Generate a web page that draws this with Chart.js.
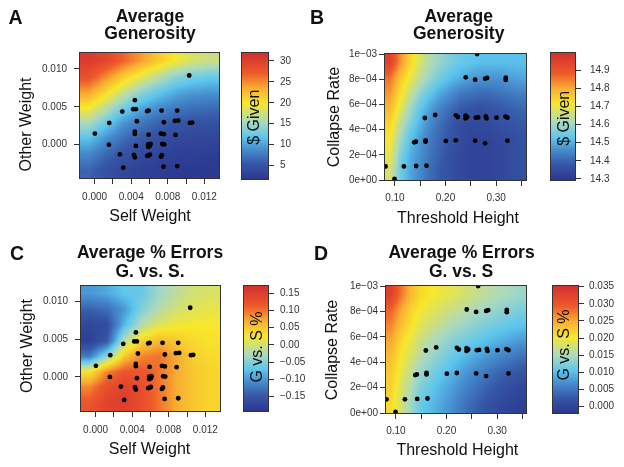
<!DOCTYPE html>
<html>
<head>
<meta charset="utf-8">
<script src="https://cdn.jsdelivr.net/npm/chart.js@4.4.0/dist/chart.umd.min.js"></script>
<style>
  html, body { margin: 0; padding: 0; background: #fff; }
  #fig { position: relative; width: 624px; height: 467px; overflow: hidden; background: #fff; }
  #fig canvas { position: absolute; }
</style>
</head>
<body>
<div id="fig"></div>
<script>
/*
    data
*/

// panels A and C: one point per subject
var selfWeight = [0.01034, 0.00440, 0.00302, 0.00422, 0.00451, 0.00575, 0.00590, 0.00732, 0.00903,
    0.00160, 0.00462, 0.00757, 0.00878, 0.00914, 0.01042, 0.01067, 0.00003, 0.00440, 0.00440,
    0.00590, 0.00725, 0.00757, 0.00885, 0.00156, 0.00451, 0.00586, 0.00604, 0.00586, 0.00612,
    0.00739, 0.00761, 0.00276, 0.00430, 0.00440, 0.00575, 0.00593, 0.00604, 0.00725, 0.00736,
    0.00313, 0.00754, 0.00903];
var otherWeight = [0.00913, 0.00587, 0.00437, 0.00468, 0.00468, 0.00442, 0.00450, 0.00450, 0.00450,
    0.00287, 0.00309, 0.00296, 0.00313, 0.00317, 0.00287, 0.00291, 0.00146, 0.00172, 0.00142,
    0.00132, 0.00146, 0.00138, 0.00128, 0.00000, -0.00017, 0.00005, -0.00017, -0.00030, 0.00009,
    0.00009, 0.00005, -0.00127, -0.00136, -0.00167, -0.00149, -0.00140, -0.00132, -0.00159, -0.00140,
    -0.00304, -0.00291, -0.00282];

// panels B and D
var thresholdHeight = [0.2625, 0.2400, 0.2586, 0.2783, 0.2822, 0.3190, 0.3190,
    0.1592, 0.1796, 0.2204, 0.2243, 0.2395, 0.2395, 0.2428, 0.2599, 0.2645, 0.2796, 0.2809,
    0.3007, 0.3184, 0.3224, 0.1382, 0.1414, 0.1605, 0.1605, 0.2007, 0.2204, 0.2586, 0.2783,
    0.3224, 0.0816, 0.1178, 0.1421, 0.1625, 0.0993];
var collapseRate = [0.001000, 0.000815, 0.000796, 0.000804, 0.000810, 0.000812, 0.000794,
    0.000492, 0.000516, 0.000513, 0.000500, 0.000511, 0.000489, 0.000500, 0.000495, 0.000497, 0.000505, 0.000489,
    0.000495, 0.000503, 0.000495, 0.000299, 0.000304, 0.000315, 0.000304, 0.000310, 0.000315, 0.000312, 0.000291,
    0.000312, 0.000108, 0.000108, 0.000111, 0.000114, 0.000008];

// axis ticks
var selfWeightTicks = [0, 0.002, 0.004, 0.006, 0.008, 0.010, 0.012];
var selfWeightLabels = ['0.000', '', '0.004', '', '0.008', '', '0.012'];
var otherWeightTicks = [0, 0.005, 0.010];
var otherWeightLabels = ['0.000', '0.005', '0.010'];
var thresholdTicks = [0.10, 0.15, 0.20, 0.25, 0.30, 0.35];
var thresholdLabels = ['0.10', '', '0.20', '', '0.30', ''];
var collapseTicks = [0, 0.0002, 0.0004, 0.0006, 0.0008, 0.001];
var collapseLabels = ['0e+00', '2e\u221204', '4e\u221204', '6e\u221204', '8e\u221204', '1e\u221203'];

// colour bar ticks
var givenTicksA = [5, 10, 15, 20, 25, 30];
var givenLabelsA = ['5', '10', '15', '20', '25', '30'];
var givenTicksB = [14.3, 14.4, 14.5, 14.6, 14.7, 14.8, 14.9];
var givenLabelsB = ['14.3', '14.4', '14.5', '14.6', '14.7', '14.8', '14.9'];
var errorTicksC = [-0.15, -0.10, -0.05, 0, 0.05, 0.10, 0.15];
var errorLabelsC = ['\u22120.15', '\u22120.10', '\u22120.05', '0.00', '0.05', '0.10', '0.15'];
var errorTicksD = [0, 0.005, 0.010, 0.015, 0.020, 0.025, 0.030, 0.035];
var errorLabelsD = ['0.000', '0.005', '0.010', '0.015', '0.020', '0.025', '0.030', '0.035'];

// colour bar ranges
var givenRangeA = [1.8, 31.9];
var givenRangeB = [14.294, 14.994];
var errorRangeC = [-0.192, 0.171];
var errorRangeD = [-0.0019, 0.0352];

// fitted surfaces, cell values: rows from top (high y) down, columns from left
var generosityA = [
    [30.5, 29.3, 26.8, 24.2, 21.8, 19.6, 18.0, 17.2],
    [28.2, 25.0, 21.8, 19.0, 16.5, 14.2, 13.0, 12.5],
    [24.0, 20.8, 17.2, 14.3, 12.2, 10.5, 9.6, 9.3],
    [19.8, 16.4, 13.0, 10.4, 8.8, 7.6, 7.0, 6.8],
    [15.4, 12.4, 9.3, 7.5, 6.2, 5.3, 5.0, 4.8],
    [11.5, 9.0, 6.8, 5.5, 4.5, 3.8, 3.6, 3.5],
    [8.5, 6.5, 5.0, 4.0, 3.3, 2.8, 2.6, 2.5],
    [6.3, 4.8, 3.7, 3.0, 2.5, 2.2, 2.1, 2.0]
];
var generosityB = [
    [14.95, 14.83, 14.74, 14.67, 14.62, 14.59, 14.56, 14.54, 14.53, 14.52, 14.52, 14.52, 14.52, 14.52],
    [14.86, 14.77, 14.70, 14.64, 14.59, 14.55, 14.52, 14.50, 14.48, 14.47, 14.47, 14.47, 14.48, 14.49],
    [14.82, 14.73, 14.65, 14.58, 14.53, 14.49, 14.46, 14.43, 14.42, 14.41, 14.41, 14.42, 14.43, 14.44],
    [14.78, 14.69, 14.60, 14.53, 14.48, 14.44, 14.41, 14.38, 14.37, 14.36, 14.37, 14.38, 14.39, 14.40],
    [14.74, 14.64, 14.56, 14.50, 14.45, 14.41, 14.38, 14.35, 14.34, 14.34, 14.35, 14.36, 14.37, 14.38],
    [14.71, 14.60, 14.52, 14.47, 14.43, 14.40, 14.37, 14.35, 14.33, 14.33, 14.33, 14.34, 14.35, 14.36],
    [14.69, 14.57, 14.50, 14.46, 14.42, 14.39, 14.36, 14.34, 14.33, 14.33, 14.33, 14.34, 14.35, 14.36],
    [14.67, 14.55, 14.49, 14.45, 14.41, 14.38, 14.36, 14.34, 14.33, 14.33, 14.33, 14.34, 14.35, 14.36]
];
var errorsC = [
    [-0.10, -0.09, -0.07, -0.065, -0.035, -0.015, 0.000, 0.005],
    [-0.14, -0.13, -0.10, -0.05, -0.02, 0.000, 0.010, 0.015],
    [-0.17, -0.16, -0.08, -0.02, 0.010, 0.020, 0.025, 0.025],
    [-0.18, -0.15, -0.02, 0.040, 0.060, 0.050, 0.035, 0.030],
    [-0.12, -0.04, 0.050, 0.090, 0.100, 0.070, 0.045, 0.035],
    [0.030, 0.090, 0.120, 0.120, 0.100, 0.070, 0.050, 0.040],
    [0.090, 0.130, 0.145, 0.130, 0.100, 0.070, 0.050, 0.040],
    [0.120, 0.145, 0.150, 0.130, 0.100, 0.070, 0.050, 0.040]
];
var errorsD = [
    [0.0330, 0.0280, 0.0240, 0.0215, 0.0205, 0.0197, 0.0190, 0.0181, 0.0173, 0.0165, 0.0158, 0.0152, 0.0146, 0.0141],
    [0.0290, 0.0252, 0.0220, 0.0200, 0.0190, 0.0180, 0.0171, 0.0163, 0.0155, 0.0147, 0.0140, 0.0133, 0.0127, 0.0122],
    [0.0270, 0.0234, 0.0208, 0.0186, 0.0174, 0.0162, 0.0151, 0.0142, 0.0134, 0.0125, 0.0118, 0.0112, 0.0107, 0.0102],
    [0.0250, 0.0215, 0.0192, 0.0170, 0.0155, 0.0142, 0.0130, 0.0120, 0.0112, 0.0104, 0.0096, 0.0088, 0.0081, 0.0075],
    [0.0235, 0.0203, 0.0180, 0.0155, 0.0140, 0.0125, 0.0112, 0.0100, 0.0088, 0.0078, 0.0069, 0.0060, 0.0052, 0.0045],
    [0.0225, 0.0192, 0.0165, 0.0138, 0.0122, 0.0107, 0.0094, 0.0080, 0.0067, 0.0056, 0.0045, 0.0035, 0.0027, 0.0020],
    [0.0220, 0.0183, 0.0152, 0.0122, 0.0107, 0.0092, 0.0080, 0.0065, 0.0052, 0.0040, 0.0028, 0.0018, 0.0010, 0.0003],
    [0.0215, 0.0177, 0.0143, 0.0110, 0.0097, 0.0083, 0.0070, 0.0054, 0.0040, 0.0027, 0.0015, 0.0005, -0.0002, -0.0008]
];

// colour ramp (blue - cyan - yellow - red)
var paletteStops = [0, 0.12, 0.24, 0.33, 0.45, 0.60, 0.72, 0.84, 1];
var paletteColors = ['#2b388f', '#3656a6', '#4790d0', '#5cc5ee', '#a9d9c0', '#f8e72b', '#f8ae31', '#ee5a2b', '#d32f2f'];


/*
    layout
*/

var FONT = '"Liberation Sans", Arial, Helvetica, sans-serif';
Chart.defaults.font.family = FONT;
Chart.defaults.color = '#333';

var panels = [
    {
        box: [0, 0, 236, 233], area: [80, 53, 219, 178],
        xRange: [-0.0016, 0.0136], yRange: [-0.0044, 0.0121],
        xs: selfWeight, ys: otherWeight, grid: generosityA, range: givenRangeA,
        xTicks: selfWeightTicks, xLabels: selfWeightLabels, yTicks: otherWeightTicks, yLabels: otherWeightLabels,
        xPad: 7, yPad: 7,
        texts: [
            {text: 'A', x: 8.5, y: 24, font: 'bold 19.5px ' + FONT, align: 'left'},
            {text: 'Average', x: 150, y: 22, font: 'bold 17.5px ' + FONT},
            {text: 'Generosity', x: 150, y: 39.3, font: 'bold 17.5px ' + FONT},
            {text: 'Self Weight', x: 150, y: 221, font: '16px ' + FONT},
            {text: 'Other Weight', x: 31, y: 124.5, font: '16px ' + FONT, rotate: true}
        ]
    },
    {
        box: [300, 0, 246, 233], area: [385, 54, 526, 180],
        xRange: [0.0805, 0.359], yRange: [0, 0.001],
        xs: thresholdHeight, ys: collapseRate, grid: generosityB, range: givenRangeB,
        xTicks: thresholdTicks, xLabels: thresholdLabels, yTicks: collapseTicks, yLabels: collapseLabels,
        xPad: 6, yPad: 2,
        texts: [
            {text: 'B', x: 310, y: 24, font: 'bold 19.5px ' + FONT, align: 'left'},
            {text: 'Average', x: 458.7, y: 22, font: 'bold 17.5px ' + FONT},
            {text: 'Generosity', x: 458.7, y: 39.3, font: 'bold 17.5px ' + FONT},
            {text: 'Threshold Height', x: 458, y: 223, font: '16px ' + FONT},
            {text: 'Collapse Rate', x: 338.5, y: 117, font: '16px ' + FONT, rotate: true}
        ]
    },
    {
        box: [0, 233, 238, 234], area: [81, 286, 220, 411],
        xRange: [-0.0016, 0.0136], yRange: [-0.0045, 0.0120],
        xs: selfWeight, ys: otherWeight, grid: errorsC, range: errorRangeC,
        xTicks: selfWeightTicks, xLabels: selfWeightLabels, yTicks: otherWeightTicks, yLabels: otherWeightLabels,
        xPad: 7, yPad: 7,
        texts: [
            {text: 'C', x: 10, y: 259.7, font: 'bold 19.5px ' + FONT, align: 'left'},
            {text: 'Average % Errors', x: 150, y: 258, font: 'bold 17.5px ' + FONT},
            {text: 'G. vs. S.', x: 150, y: 277, font: 'bold 17.5px ' + FONT},
            {text: 'Self Weight', x: 149.5, y: 454, font: '16px ' + FONT},
            {text: 'Other Weight', x: 31.5, y: 346, font: '16px ' + FONT, rotate: true}
        ]
    },
    {
        box: [300, 233, 247, 234], area: [386, 286, 526, 413],
        xRange: [0.0805, 0.357], yRange: [0, 0.001],
        xs: thresholdHeight, ys: collapseRate, grid: errorsD, range: errorRangeD,
        xTicks: thresholdTicks, xLabels: thresholdLabels, yTicks: collapseTicks, yLabels: collapseLabels,
        xPad: 6, yPad: 2,
        texts: [
            {text: 'D', x: 314, y: 259.7, font: 'bold 19.5px ' + FONT, align: 'left'},
            {text: 'Average % Errors', x: 461.5, y: 258, font: 'bold 17.5px ' + FONT},
            {text: 'G. vs. S', x: 461, y: 277.3, font: 'bold 17.5px ' + FONT},
            {text: 'Threshold Height', x: 457.3, y: 455, font: '16px ' + FONT},
            {text: 'Collapse Rate', x: 337, y: 350, font: '16px ' + FONT, rotate: true}
        ]
    }
];

var colorbars = [
    {box: [238, 0, 74, 233], area: [242, 53, 268, 179], range: givenRangeA,
        ticks: givenTicksA, labels: givenLabelsA, pad: 6,
        title: {text: '$ Given', x: 259.2, y: 117.2, font: '16px ' + FONT, rotate: true}},
    {box: [547, 0, 77, 233], area: [551, 53, 575, 180], range: givenRangeB,
        ticks: givenTicksB, labels: givenLabelsB, pad: 9,
        title: {text: '$ Given', x: 568.5, y: 118.3, font: '16px ' + FONT, rotate: true}},
    {box: [240, 233, 72, 234], area: [244, 286, 268, 411], range: errorRangeC,
        ticks: errorTicksC, labels: errorLabelsC, pad: 6,
        title: {text: 'G vs. S %', x: 261.5, y: 347, font: '16px ' + FONT, rotate: true}},
    {box: [549, 233, 75, 234], area: [553, 286, 578, 413], range: errorRangeD,
        ticks: errorTicksD, labels: errorLabelsD, pad: 5,
        title: {text: 'G vs. S %', x: 569, y: 345, font: '16px ' + FONT, rotate: true}}
];


/*
    helpers
*/

function hexToRgb(hex){
    return [parseInt(hex.substr(1, 2), 16), parseInt(hex.substr(3, 2), 16), parseInt(hex.substr(5, 2), 16)];
}
var paletteRgb = paletteColors.map(hexToRgb);

function paletteAt(f){
    if(f <= 0) return paletteRgb[0];
    if(f >= 1) return paletteRgb[paletteRgb.length - 1];
    var i = 1;
    while(paletteStops[i] < f) i++;
    var t = (f - paletteStops[i - 1]) / (paletteStops[i] - paletteStops[i - 1]);
    var a = paletteRgb[i - 1], b = paletteRgb[i];
    return [a[0] + (b[0] - a[0]) * t, a[1] + (b[1] - a[1]) * t, a[2] + (b[2] - a[2]) * t];
}

// smooth shading of the cell grid
function sampleGrid(grid, gx, gy){
    var rows = grid.length, cols = grid[0].length;
    gx = Math.max(0, Math.min(cols - 1, gx));
    gy = Math.max(0, Math.min(rows - 1, gy));
    var i0 = Math.floor(gx), j0 = Math.floor(gy);
    var i1 = Math.min(i0 + 1, cols - 1), j1 = Math.min(j0 + 1, rows - 1);
    var tx = gx - i0, ty = gy - j0;
    var top = grid[j0][i0] * (1 - tx) + grid[j0][i1] * tx;
    var bot = grid[j1][i0] * (1 - tx) + grid[j1][i1] * tx;
    return top * (1 - ty) + bot * ty;
}

function paintField(chart, grid, range){
    var ctx = chart.ctx, a = chart.chartArea;
    var xs = chart.scales.x, ys = chart.scales.y;
    var w = Math.round(a.right - a.left), h = Math.round(a.bottom - a.top);
    var rows = grid.length, cols = grid[0].length;
    var off = document.createElement('canvas');
    off.width = w; off.height = h;
    var octx = off.getContext('2d');
    var img = octx.createImageData(w, h);
    for(var j = 0; j < h; j++){
        var vy = ys.getValueForPixel(a.top + j + 0.5);
        var gy = (ys.max - vy) / (ys.max - ys.min) * rows - 0.5;
        for(var i = 0; i < w; i++){
            var vx = xs.getValueForPixel(a.left + i + 0.5);
            var gx = (vx - xs.min) / (xs.max - xs.min) * cols - 0.5;
            var v = sampleGrid(grid, gx, gy);
            var c = paletteAt((v - range[0]) / (range[1] - range[0]));
            var k = (j * w + i) * 4;
            img.data[k] = c[0];
            img.data[k + 1] = c[1];
            img.data[k + 2] = c[2];
            img.data[k + 3] = 255;
        }
    }
    octx.putImageData(img, 0, 0);
    ctx.drawImage(off, a.left, a.top);
}

function drawFrame(chart){
    var ctx = chart.ctx, a = chart.chartArea;
    ctx.save();
    ctx.strokeStyle = '#333';
    ctx.lineWidth = 1;
    ctx.strokeRect(Math.round(a.left) - 0.5, Math.round(a.top) - 0.5,
        Math.round(a.right - a.left) + 1, Math.round(a.bottom - a.top) + 1);
    ctx.restore();
}

function drawText(ctx, t, box){
    ctx.save();
    ctx.font = t.font;
    ctx.fillStyle = '#111';
    ctx.textAlign = t.align || 'center';
    ctx.textBaseline = 'alphabetic';
    ctx.translate(t.x - box[0], t.y - box[1]);
    if(t.rotate) ctx.rotate(-Math.PI / 2);
    ctx.fillText(t.text, 0, 0);
    ctx.restore();
}

function makeCanvas(box){
    var c = document.createElement('canvas');
    c.width = box[2];
    c.height = box[3];
    c.style.left = box[0] + 'px';
    c.style.top = box[1] + 'px';
    c.style.width = box[2] + 'px';
    c.style.height = box[3] + 'px';
    document.getElementById('fig').appendChild(c);
    return c;
}

function axisOptions(range, ticks, labels, pad, position, fit){
    return {
        type: 'linear',
        position: position,
        min: range[0],
        max: range[1],
        afterBuildTicks: function(scale){
            scale.ticks = ticks.map(function(v){ return {value: v}; });
        },
        afterFit: fit,
        ticks: {
            autoSkip: false,
            maxRotation: 0,
            minRotation: 0,
            padding: pad,
            color: '#333',
            font: {size: 10},
            callback: function(value, index){ return labels[index]; }
        },
        grid: {
            drawOnChartArea: false,
            drawTicks: true,
            tickLength: 6,
            color: '#333',
            lineWidth: 1
        },
        border: {display: false}
    };
}


/*
    charts
*/

function drawPanel(p){
    var cv = makeCanvas(p.box);
    var box = p.box;
    var points = p.xs.map(function(x, i){ return {x: x, y: p.ys[i]}; });

    new Chart(cv, {
        type: 'scatter',
        data: {
            datasets: [{
                data: points,
                pointRadius: 2.4,
                pointHoverRadius: 2.4,
                backgroundColor: '#000',
                borderWidth: 0
            }]
        },
        options: {
            responsive: false,
            animation: false,
            events: [],
            layout: {
                padding: {left: 0, top: p.area[1] - box[1], right: box[0] + box[2] - p.area[2], bottom: 0}
            },
            plugins: {
                legend: {display: false},
                tooltip: {enabled: false}
            },
            scales: {
                x: axisOptions(p.xRange, p.xTicks, p.xLabels, p.xPad, 'bottom', function(s){
                    s.height = box[1] + box[3] - p.area[3];
                }),
                y: axisOptions(p.yRange, p.yTicks, p.yLabels, p.yPad, 'left', function(s){
                    s.width = p.area[0] - box[0];
                })
            }
        },
        plugins: [{
            id: 'surface',
            beforeDatasetsDraw: function(chart){ paintField(chart, p.grid, p.range); },
            afterDraw: function(chart){
                drawFrame(chart);
                p.texts.forEach(function(t){ drawText(chart.ctx, t, box); });
            }
        }]
    });
}

function drawColorbar(b){
    var cv = makeCanvas(b.box);
    var box = b.box;

    new Chart(cv, {
        type: 'scatter',
        data: {datasets: []},
        options: {
            responsive: false,
            animation: false,
            events: [],
            layout: {
                padding: {left: b.area[0] - box[0], top: b.area[1] - box[1], right: 0, bottom: box[1] + box[3] - b.area[3]}
            },
            plugins: {
                legend: {display: false},
                tooltip: {enabled: false}
            },
            scales: {
                x: {display: false, min: 0, max: 1},
                y: axisOptions(b.range, b.ticks, b.labels, b.pad, 'right', function(s){
                    s.width = box[0] + box[2] - b.area[2];
                })
            }
        },
        plugins: [{
            id: 'colorbar',
            beforeDatasetsDraw: function(chart){
                var ctx = chart.ctx, a = chart.chartArea, ys = chart.scales.y;
                var g = ctx.createLinearGradient(0, ys.getPixelForValue(b.range[0]), 0, ys.getPixelForValue(b.range[1]));
                paletteStops.forEach(function(s, i){ g.addColorStop(s, paletteColors[i]); });
                ctx.fillStyle = g;
                ctx.fillRect(a.left, a.top, a.right - a.left, a.bottom - a.top);
            },
            afterDraw: function(chart){
                drawFrame(chart);
                drawText(chart.ctx, b.title, box);
            }
        }]
    });
}

panels.forEach(drawPanel);
colorbars.forEach(drawColorbar);
</script>
</body>
</html>
